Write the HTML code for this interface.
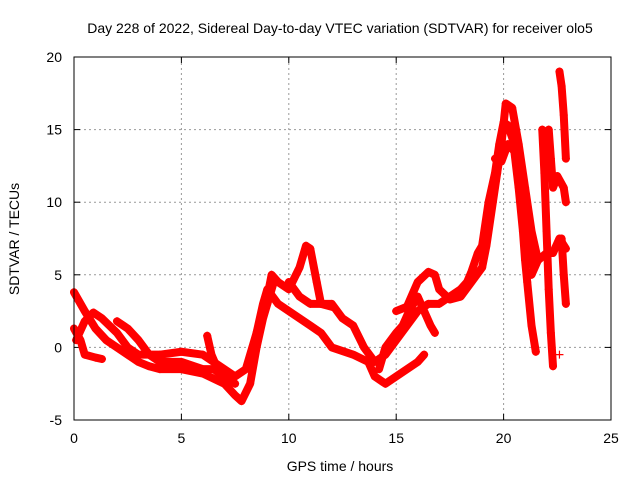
<!DOCTYPE html>
<html><head><meta charset="utf-8"><style>
body{margin:0;background:#fff;}
svg text{font-family:"Liberation Sans",sans-serif;font-size:14px;fill:#000;}
</style></head><body>
<svg id="chart" width="640" height="480">
<rect width="640" height="480" fill="#fff"/>
<text x="340" y="33" text-anchor="middle">Day 228 of 2022, Sidereal Day-to-day VTEC variation (SDTVAR) for receiver olo5</text>
<text x="340" y="471" text-anchor="middle">GPS time / hours</text>
<text transform="translate(19,239) rotate(-90)" text-anchor="middle">SDTVAR / TECUs</text>
<g id="grid"></g><g id="ticks"></g><g id="marks"></g>
<rect x="74" y="57" width="537" height="363" fill="none" stroke="#000" stroke-width="1"/>
</svg>
<script>
const xTicks=[0,5,10,15,20,25];
const yTicks=[-5,0,5,10,15,20];
const arcA1=[[0,3.8],[0.5,2.5],[1,1.3],[1.5,0.5],[2,0],[2.5,-0.5],[3,-1],[3.5,-1.3],[4,-1.5],[5,-1.5],[6,-1.8],[7,-2.5],[7.5,-3.3],[7.8,-3.7],[8.2,-2.5],[8.5,0],[8.8,2],[9,3],[9.3,4.5]];
const arcA2=[[0,1.3],[0.3,0.5],[0.5,-0.5],[1,-0.7],[1.3,-0.8]];
const arcA3=[[0.1,0.5],[0.5,1.8],[0.9,2.4],[1.3,2],[2,1],[2.5,0],[3,-0.5],[4,-0.5],[5,-0.3],[6,-0.5],[6.5,-1],[7,-1.5],[7.5,-2],[8,-1.5],[8.5,1],[9,3.5],[9.2,5],[9.5,4.5],[10,4],[10.5,5.5],[10.8,7],[11,6.8],[11.3,4.5],[11.5,3],[12,2.8]];
const arcA4=[[2,1.8],[2.5,1.3],[3,0.5],[3.5,-0.5],[4,-1],[5,-1],[6,-1.5],[6.5,-1.5],[7,-2],[7.5,-2.5]];
const arcA5=[[6.2,0.8],[6.4,-0.5],[6.6,-1.2]];
const arcA6=[[8.3,-1.3],[8.5,1],[8.8,3],[9,4],[9.5,3],[10,2.5],[10.5,2],[11,1.5],[11.5,1],[12,0],[13,-0.5],[13.7,-1],[14,-2],[14.5,-2.5],[15,-2],[15.5,-1.5],[16,-1],[16.3,-0.5]];
const arcA7=[[10,4.5],[10.5,3.5],[11,3],[12,3],[12.5,2],[13,1.5],[13.5,0],[14,-1],[14.5,-0.5],[15,0.5],[15.5,1.5],[16,2.5],[16.5,3],[17,3],[17.5,3.5],[18,4],[18.3,4.5],[18.5,5.2],[18.8,6.5],[19,7],[19.3,10],[19.6,12],[19.8,14],[20,15.5],[20.2,15.3],[20.5,14],[20.8,11],[21,9],[21.2,7],[21.4,5.5]];
const arcA8=[[15,2.5],[15.5,2.8],[16,4.5],[16.5,5.2],[16.8,5],[17,4],[17.5,3.3],[18,3.5],[18.5,4.5],[19,5.5],[19.2,7],[19.5,10],[19.7,12],[19.9,14],[20.1,16.8],[20.4,16.5],[20.7,14],[21,11],[21.3,8],[21.6,6]];
const arcA9=[[14.2,-1.5],[14.5,0],[15,1],[15.3,1.5],[15.6,2.5],[16,3.5],[16.3,2.5],[16.6,1.5],[16.8,1]];
const arcA10=[[19.6,13],[19.9,12.8],[20.2,14],[20.5,13.5],[20.7,11],[20.9,8],[21,6],[21.1,4.5],[21.3,1.5],[21.5,-0.3]];
const arcA11=[[21.3,5],[21.6,6],[22,6.5],[22.3,6.5],[22.6,7.5],[22.9,6.8]];
const arcA12=[[21.8,15],[21.9,12],[22,8],[22.1,4],[22.2,1],[22.3,-1.3]];
const arcA13=[[22.1,15],[22.2,13],[22.3,11],[22.5,11.8],[22.8,11],[22.9,10]];
const arcA14=[[22.6,19],[22.7,18],[22.8,16],[22.9,13]];
const arcA15=[[22.7,7.5],[22.8,5],[22.9,3]];
const arcA16=[[22.6,-0.5]];
const arcs=[arcA1,arcA2,arcA3,arcA4,arcA5,arcA6,arcA7,arcA8,arcA9,arcA10,arcA11,arcA12,arcA13,arcA14,arcA15,arcA16];
const X0=74,X1=611,Y0=420,Y1=57;
const sx=v=>X0+(v-0)/(25-0)*(X1-X0);
const sy=v=>Y0-(v+5)/(20+5)*(Y0-Y1);
const NS='http://www.w3.org/2000/svg';
const grid=document.getElementById('grid'),ticks=document.getElementById('ticks'),marks=document.getElementById('marks');
function mk(t,a,p){const e=document.createElementNS(NS,t);for(const k in a)e.setAttribute(k,a[k]);p.appendChild(e);return e;}
xTicks.forEach(t=>{const x=sx(t);
 if(t>0&&t<25){const g=mk('line',{x1:x,x2:x,y1:Y0,y2:Y1,stroke:'#999','stroke-dasharray':'2,3'},grid);
 
 }
 mk('line',{x1:x,x2:x,y1:Y0,y2:Y0-6,stroke:'#000'},ticks);mk('line',{x1:x,x2:x,y1:Y1,y2:Y1+6,stroke:'#000'},ticks);
 const l=mk('text',{x:x,y:443,'text-anchor':'middle'},ticks);l.textContent=t;
 
 });
yTicks.forEach(t=>{const y=sy(t);
 if(t>-5&&t<20){const g=mk('line',{x1:X0,x2:X1,y1:y,y2:y,stroke:'#999','stroke-dasharray':'2,3'},grid);
 
 }
 mk('line',{x1:X0,x2:X0+6,y1:y,y2:y,stroke:'#000'},ticks);mk('line',{x1:X1,x2:X1-6,y1:y,y2:y,stroke:'#000'},ticks);
 const l=mk('text',{x:62,y:y+5,'text-anchor':'end'},ticks);l.textContent=t;
 
 });
arcs.forEach(arc=>{
 const pl=mk('polyline',{points:arc.map(p=>sx(p[0])+','+sy(p[1])).join(' '),fill:'none',stroke:'#f00','stroke-width':8,'stroke-linejoin':'round','stroke-linecap':'round'},marks);
 
 
 arc.forEach(p=>{const x=sx(p[0]),y=sy(p[1]);
  const m=mk('path',{d:`M${x-4},${y}H${x+4}M${x},${y-4}V${y+4}`,stroke:'#f00','stroke-width':1.2},marks);
  
  });
});
</script>
</body></html>
